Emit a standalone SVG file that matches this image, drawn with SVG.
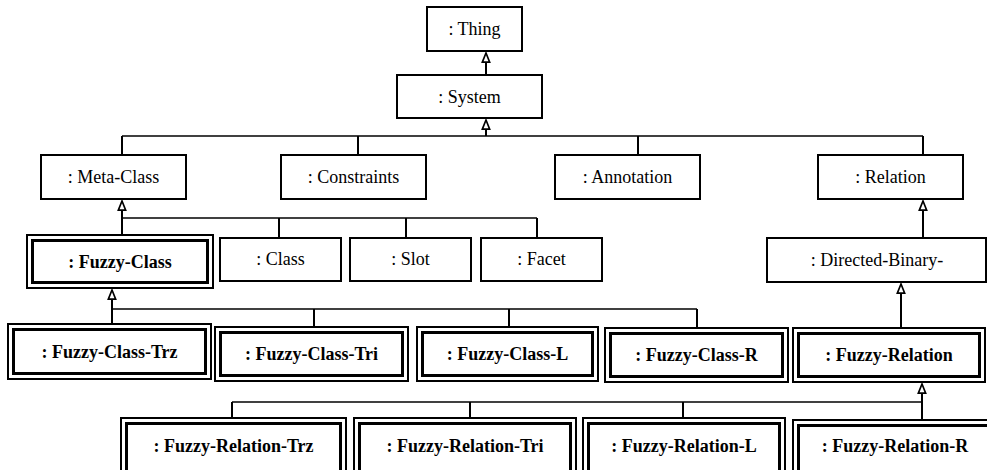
<svg xmlns="http://www.w3.org/2000/svg" width="987" height="470" viewBox="0 0 987 470">
<style>
  .box{fill:#fff;stroke:#000;stroke-width:2}
  .dbl-o{fill:#fff;stroke:#000;stroke-width:2}
  .dbl-i{fill:none;stroke:#000;stroke-width:3}
  text{font-family:'Liberation Serif','Times New Roman','DejaVu Serif',serif;font-size:18px;text-anchor:middle;fill:#000}
  .b{font-weight:bold}
  .v{stroke:#000;stroke-width:2;fill:none}
  .bus{stroke:#000;stroke-width:1.4;fill:none}
</style>
<defs>
  <marker id="tri" viewBox="0 0 12 10" refX="11" refY="5" markerWidth="11" markerHeight="10" markerUnits="userSpaceOnUse" orient="auto">
    <path d="M1,1 L11,5 L1,9 Z" fill="#fff" stroke="#000" stroke-width="1.8"/>
  </marker>
</defs>
<rect width="987" height="470" fill="#fff"/>

<g id="connectors">
  <line class="v" x1="486" y1="74" x2="486" y2="53" marker-end="url(#tri)"/>
  <line class="bus" x1="122" y1="136" x2="923" y2="136"/>
  <line class="v" x1="486" y1="136" x2="486" y2="120" marker-end="url(#tri)"/>
  <line class="v" x1="122" y1="136" x2="122" y2="154"/>
  <line class="v" x1="358" y1="136" x2="358" y2="154"/>
  <line class="v" x1="638" y1="136" x2="638" y2="154"/>
  <line class="v" x1="923" y1="136" x2="923" y2="154"/>

  <line class="bus" x1="122" y1="218" x2="537" y2="218"/>
  <line class="v" x1="122" y1="234" x2="122" y2="201" marker-end="url(#tri)"/>
  <line class="v" x1="279" y1="218" x2="279" y2="237"/>
  <line class="v" x1="406" y1="218" x2="406" y2="237"/>
  <line class="v" x1="537" y1="218" x2="537" y2="237"/>

  <line class="v" x1="923" y1="238" x2="923" y2="201" marker-end="url(#tri)"/>

  <line class="bus" x1="112" y1="309" x2="697" y2="309"/>
  <line class="v" x1="112" y1="323" x2="112" y2="290" marker-end="url(#tri)"/>
  <line class="v" x1="314" y1="309" x2="314" y2="326"/>
  <line class="v" x1="509" y1="309" x2="509" y2="326"/>
  <line class="v" x1="697" y1="309" x2="697" y2="327"/>

  <line class="v" x1="901" y1="328" x2="901" y2="284" marker-end="url(#tri)"/>

  <line class="bus" x1="232" y1="402" x2="922" y2="402"/>
  <line class="v" x1="922" y1="420" x2="922" y2="384" marker-end="url(#tri)"/>
  <line class="v" x1="232" y1="402" x2="232" y2="418"/>
  <line class="v" x1="470" y1="402" x2="470" y2="418"/>
  <line class="v" x1="683" y1="402" x2="683" y2="418"/>
</g>

<g id="thing"><rect class="box" x="427" y="7" width="95" height="44"/><text x="474.5" y="35">: Thing</text></g>
<g id="system"><rect class="box" x="397" y="75" width="145" height="43"/><text x="469.5" y="103">: System</text></g>
<g id="meta-class"><rect class="box" x="41" y="155" width="145" height="44"/><text x="113.5" y="183">: Meta-Class</text></g>
<g id="constraints"><rect class="box" x="281" y="155" width="145" height="44"/><text x="353.5" y="183">: Constraints</text></g>
<g id="annotation"><rect class="box" x="555" y="155" width="145" height="44"/><text x="627.5" y="183">: Annotation</text></g>
<g id="relation"><rect class="box" x="818" y="155" width="145" height="44"/><text x="890.5" y="183">: Relation</text></g>

<g id="fuzzy-class"><rect class="dbl-o" x="27" y="235" width="186" height="53"/><rect class="dbl-i" x="32.5" y="240.5" width="175" height="42"/><text class="b" x="120" y="268">: Fuzzy-Class</text></g>
<g id="class"><rect class="box" x="220" y="238" width="121" height="43"/><text x="280.5" y="265">: Class</text></g>
<g id="slot"><rect class="box" x="350" y="238" width="121" height="43"/><text x="410.5" y="265">: Slot</text></g>
<g id="facet"><rect class="box" x="481" y="238" width="121" height="43"/><text x="541.5" y="265">: Facet</text></g>
<g id="directed-binary"><rect class="box" x="767" y="238" width="219" height="44"/><text x="877" y="266">: Directed-Binary-</text></g>

<g id="fuzzy-class-trz"><rect class="dbl-o" x="8" y="324" width="203" height="55"/><rect class="dbl-i" x="13.5" y="329.5" width="192" height="44"/><text class="b" x="109.5" y="358">: Fuzzy-Class-Trz</text></g>
<g id="fuzzy-class-tri"><rect class="dbl-o" x="215" y="327" width="193" height="54"/><rect class="dbl-i" x="220.5" y="332.5" width="182" height="43"/><text class="b" x="311.5" y="360">: Fuzzy-Class-Tri</text></g>
<g id="fuzzy-class-l"><rect class="dbl-o" x="417" y="327" width="181" height="54"/><rect class="dbl-i" x="422.5" y="332.5" width="170" height="43"/><text class="b" x="507.5" y="360">: Fuzzy-Class-L</text></g>
<g id="fuzzy-class-r"><rect class="dbl-o" x="605" y="328" width="183" height="54"/><rect class="dbl-i" x="610.5" y="333.5" width="172" height="43"/><text class="b" x="696.5" y="361">: Fuzzy-Class-R</text></g>
<g id="fuzzy-relation"><rect class="dbl-o" x="793" y="328" width="192" height="54"/><rect class="dbl-i" x="798.5" y="333.5" width="181" height="43"/><text class="b" x="889" y="361">: Fuzzy-Relation</text></g>

<g id="fuzzy-relation-trz"><rect class="dbl-o" x="121" y="418" width="225" height="60"/><rect class="dbl-i" x="126.5" y="423.5" width="214" height="49"/><text class="b" x="233.5" y="452">: Fuzzy-Relation-Trz</text></g>
<g id="fuzzy-relation-tri"><rect class="dbl-o" x="354" y="418" width="222" height="60"/><rect class="dbl-i" x="359.5" y="423.5" width="211" height="49"/><text class="b" x="465" y="452">: Fuzzy-Relation-Tri</text></g>
<g id="fuzzy-relation-l"><rect class="dbl-o" x="583" y="418" width="202" height="60"/><rect class="dbl-i" x="588.5" y="423.5" width="191" height="49"/><text class="b" x="684" y="452">: Fuzzy-Relation-L</text></g>
<g id="fuzzy-relation-r"><rect class="dbl-o" x="793" y="420" width="206" height="60"/><rect class="dbl-i" x="798.5" y="425.5" width="195" height="49"/><text class="b" x="895" y="452">: Fuzzy-Relation-R</text></g>
</svg>
